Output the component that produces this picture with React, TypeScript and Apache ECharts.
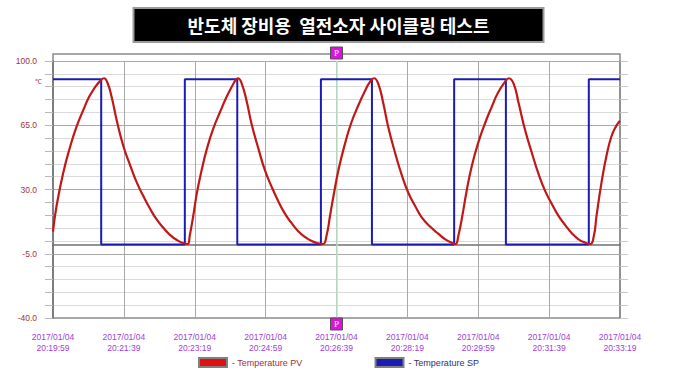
import React, { useEffect, useRef } from "react";
import * as echarts from "echarts";

const TITLE = "반도체 장비용  열전소자 사이클링 테스트";
const DATE_LABEL = "2017/01/04";
const START_TIME = "20:19:59";
const X_MAX_SECONDS = 800;
const X_STEP_SECONDS = 100;
const Y_MIN = -40;
const Y_MAX = 100;
const Y_MINOR_STEP = 7;
const Y_MAJOR_STEP = 35;
const CURSOR_SECONDS = 400;

const seriesNames = ["Temperature PV", "Temperature SP"];

// Temperature PV (red): seconds since start, value in ℃
const pvSeconds = [
  0, 5, 15, 24, 33, 43, 51, 59, 67, 72, 77, 83, 90, 99, 109, 118, 128, 137, 146, 156, 165, 175, 184, 190,
  193, 198, 203, 210, 217, 226, 236, 245, 253, 258, 261, 266, 273, 280, 290, 299, 309, 318, 327, 337, 346,
  356, 365, 374, 381, 386, 391, 396, 403, 412, 421, 431, 440, 447, 453, 459, 466, 473, 483, 492, 501, 511,
  520, 532, 544, 553, 563, 568, 572, 577, 584, 591, 600, 610, 619, 628, 638, 643, 650, 657, 666, 676, 685,
  694, 704, 713, 723, 732, 741, 751, 758, 763, 767, 774, 781, 788, 795, 800,
];
const pvValues = [
  7, 21, 40, 53, 64, 73.5, 80.5, 85.5, 89.3, 90.6, 88, 80, 67.5, 54, 43, 34, 26, 19.5, 13.8, 9, 5.3, 2.4, 0.7, 0.3,
  5, 16, 28, 41, 52, 63, 72.5, 80.5, 86.5, 89.8, 90.6, 88, 78.5, 66, 52, 40.5, 31, 23.5, 17, 11.5, 7.3,
  4, 1.9, 0.7, 0.3, 5, 16, 27, 41, 55, 66.5, 76, 83.5, 88.5, 90.6, 87.5, 77, 64, 49.5, 38, 28.5, 21,
  15, 9.8, 5.8, 3, 0.9, 0.3, 5, 14.5, 30, 43, 55.5, 66.5, 75, 82.8, 88.8, 90.6, 87.5, 77, 62.5, 49.5, 38.5,
  29.5, 22, 15.8, 10.5, 6.2, 3, 1, 0.3, 4.5, 16, 34, 48.5, 59, 64.8, 67.5,
];

// Temperature SP (blue): step set-point, seconds since start
const spSeconds = [0, 68, 68, 186, 186, 260, 260, 378, 378, 450, 450, 566, 566, 639, 639, 756, 756, 800];
const spValues = [90, 90, 0, 0, 90, 90, 0, 0, 90, 90, 0, 0, 90, 90, 0, 0, 90, 90];

const AXIS_FONT = "'Liberation Sans', Arial, sans-serif";

function timeLabel(sec: number): string {
  const [h, m, s] = START_TIME.split(":").map(Number);
  let total = h * 3600 + m * 60 + s + Math.round(sec);
  const hh = Math.floor(total / 3600);
  total -= hh * 3600;
  const mm = Math.floor(total / 60);
  const ss = total - mm * 60;
  const p = (n: number) => String(n).padStart(2, "0");
  return `${DATE_LABEL}\n${p(hh)}:${p(mm)}:${p(ss)}`;
}

export default function App() {
  const ref = useRef<HTMLDivElement>(null);

  useEffect(() => {
    if (!ref.current) return;
    const chart = echarts.init(ref.current, null, { renderer: "svg" });

    const pvData = pvSeconds.map((t, i) => [t, pvValues[i]]);
    const spData = spSeconds.map((t, i) => [t, spValues[i]]);

    const isMajor = (v: number) => Math.abs(Math.round(v - Y_MIN) % Y_MAJOR_STEP) === 0;

    chart.setOption({
      animation: false,
      backgroundColor: "#ffffff",
      title: {
        text: TITLE,
        left: "center",
        top: 8,
        backgroundColor: "#000000",
        borderColor: "#9a9a9a",
        borderWidth: 2,
        padding: [7, 54, 7, 54],
        textStyle: {
          color: "#ffffff",
          fontSize: 18,
          fontWeight: "bold",
          fontFamily: "'Noto Sans CJK KR', sans-serif",
          lineHeight: 20,
        },
      },
      legend: {
        left: 193,
        top: 352,
        itemWidth: 28,
        itemHeight: 9,
        itemGap: 72,
        icon: "rect",
        formatter: "- {name}",
        itemStyle: { borderColor: "#808080", borderWidth: 2 },
        textStyle: { fontSize: 9, fontFamily: AXIS_FONT },
        data: [
          { name: seriesNames[0], textStyle: { color: "#a0303a" } },
          { name: seriesNames[1], textStyle: { color: "#303070" } },
        ],
      },
      grid: { left: 53, right: 57, top: 61, bottom: 60, containLabel: false },
      xAxis: {
        type: "value",
        min: 0,
        max: X_MAX_SECONDS,
        interval: X_STEP_SECONDS,
        axisLine: { show: true, lineStyle: { color: "#707070", width: 1.5 } },
        axisTick: { show: false },
        splitLine: { show: true, lineStyle: { color: "#a8a8a8", width: 1 } },
        axisLabel: {
          show: true,
          showMinLabel: true,
          showMaxLabel: true,
          hideOverlap: false,
          margin: 13,
          color: "#a040d8",
          fontSize: 8.5,
          lineHeight: 11,
          fontFamily: AXIS_FONT,
          formatter: (v: number) => timeLabel(v),
        },
      },
      yAxis: [
        {
          type: "value",
          min: Y_MIN,
          max: Y_MAX,
          interval: Y_MINOR_STEP,
          axisLine: { show: true, lineStyle: { color: "#707070", width: 1.5 } },
          axisTick: { show: true, length: 8, lineStyle: { color: "#b8b8b8" } },
          splitLine: {
            show: true,
            lineStyle: { color: ["#a8a8a8", "#dadada", "#dadada", "#dadada", "#dadada"], width: 1 },
          },
          axisLabel: {
            margin: 16,
            color: "#a0343c",
            fontSize: 8.5,
            fontFamily: AXIS_FONT,
            showMinLabel: true,
            showMaxLabel: true,
            formatter: (v: number) => (isMajor(v) ? v.toFixed(1) : ""),
          },
        },
        {
          type: "value",
          position: "right",
          min: Y_MIN,
          max: Y_MAX,
          interval: Y_MINOR_STEP,
          axisLine: { show: true, lineStyle: { color: "#8a8a8a", width: 1.5 } },
          axisTick: { show: true, length: 8, lineStyle: { color: "#c8c8c8" } },
          splitLine: { show: false },
          axisLabel: { show: false },
        },
      ],
      graphic: [
        {
          type: "rect",
          shape: { x: 53, y: 54, width: 567, height: 264 },
          style: { fill: "none", stroke: "#8a8a8a", lineWidth: 1.5 },
          silent: true,
        },
        {
          type: "text",
          x: 35,
          y: 78,
          style: { text: "℃", fill: "#a0343c", fontSize: 7, fontFamily: AXIS_FONT },
          silent: true,
        },
      ],
      series: [
        {
          name: seriesNames[1],
          type: "line",
          data: spData,
          showSymbol: false,
          symbol: "none",
          color: "#1c1cb4",
          lineStyle: { color: "#1c1cb4", width: 2 },
          z: 3,
          markLine: {
            silent: true,
            symbol: ["none", "none"],
            label: { show: false },
            lineStyle: { color: "#b8e6c6", width: 1.5, type: "solid" },
            data: [{ xAxis: CURSOR_SECONDS }],
            z: 1,
          },
        },
        {
          name: seriesNames[0],
          type: "line",
          data: pvData,
          smooth: 0.5,
          showSymbol: false,
          symbol: "none",
          color: "#e01010",
          lineStyle: { color: "#c01818", width: 2.2 },
          z: 4,
          markPoint: {
            silent: true,
            symbol: "rect",
            symbolSize: 12,
            itemStyle: { color: "#e010e0", borderColor: "#505050", borderWidth: 1 },
            label: {
              show: true,
              position: "inside",
              formatter: "P",
              color: "#ffffff",
              fontSize: 9,
              fontFamily: "'Liberation Serif', serif",
            },
            data: [
              { coord: [CURSOR_SECONDS, Y_MAX], symbolOffset: [0, -8] },
              { coord: [CURSOR_SECONDS, Y_MIN], symbolOffset: [0, 6] },
            ],
          },
        },
      ],
    });

    return () => chart.dispose();
  }, []);

  return (
    <div
      ref={ref}
      style={{ position: "fixed", left: 0, top: 0, width: 677, height: 378 }}
    />
  );
}
